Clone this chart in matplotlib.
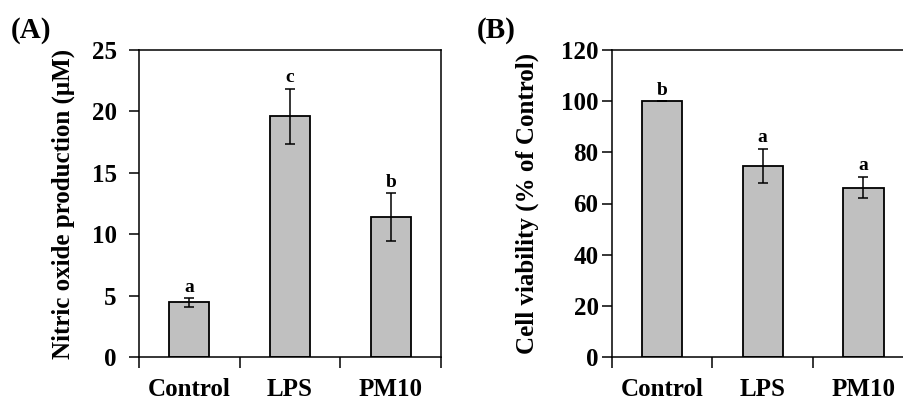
import matplotlib.pyplot as plt

plt.rcParams["font.family"] = ["Liberation Serif", "DejaVu Serif"]
plt.rcParams["font.weight"] = "bold"

categories = ["Control", "LPS", "PM10"]

# (A) nitric oxide production
no_mean = [4.45, 19.6, 11.4]
no_err = [0.35, 2.25, 1.95]
no_letters = ["a", "c", "b"]

# (B) cell viability
cv_mean = [100.0, 74.7, 66.2]
cv_err = [0.0, 6.7, 4.2]
cv_letters = ["b", "a", "a"]

fig = plt.figure(figsize=(9.04, 3.99), dpi=100)


def draw_panel(rect, means, errs, letters, ymax, ystep, ylabel, tag, tag_x, ylabel_x, ypad):
    ax = fig.add_axes(rect)
    x = list(range(len(categories)))
    ax.bar(x, means, width=0.4, color="#c0c0c0", edgecolor="black", linewidth=1.3, zorder=2)
    ax.errorbar(x, means, yerr=errs, fmt="none",
                ecolor="black", elinewidth=1.1, capsize=3.5, capthick=1.1, zorder=3)
    off = ymax * 0.008
    for xi, m, e, lt in zip(x, means, errs, letters):
        ax.text(xi, m + e + off, lt, ha="center", va="bottom", fontsize=14, fontweight="bold")
    ax.set_xlim(-0.5, 2.5)
    ax.set_ylim(0, ymax)
    ax.set_yticks(range(0, ymax + 1, ystep))
    ax.set_xticks([-0.5, 0.5, 1.5, 2.5])
    ax.set_xticklabels([])
    ax.set_xticks(x, categories, minor=True)
    ax.tick_params(axis="x", which="major", direction="out", length=8, width=1.1)
    ax.tick_params(axis="x", which="minor", length=0, pad=15, labelsize=18)
    ax.tick_params(axis="y", direction="out", length=7, width=1.1, labelsize=18, pad=ypad)
    for lbl in ax.get_xticklabels(minor=True) + ax.get_yticklabels():
        lbl.set_fontweight("bold")
    for s in ax.spines.values():
        s.set_linewidth(1.1)
    fig.text(ylabel_x, rect[1] + rect[3] / 2, ylabel, rotation=90, ha="center", va="center",
             fontsize=18, fontweight="bold")
    fig.text(tag_x, 1 - 30 / 399, tag, ha="left", va="center", fontsize=21, fontweight="bold")
    return ax


draw_panel([139 / 904, 42 / 399, 302 / 904, 307 / 399], no_mean, no_err, no_letters,
           25, 5, "Nitric oxide production (\u03bcM)", "(A)", 11 / 904, 63 / 904, 9)
draw_panel([611.7 / 904, 42 / 399, 302 / 904, 307 / 399], cv_mean, cv_err, cv_letters,
           120, 20, "Cell viability (% of Control)", "(B)", 477 / 904, 527 / 904, 2.5)

fig.savefig("out.png", dpi=100)
